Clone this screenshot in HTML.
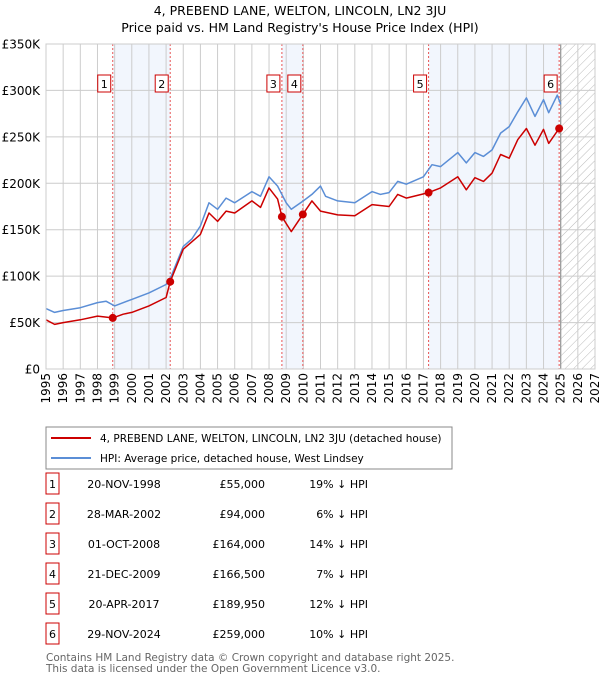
<!DOCTYPE html>
<html><head><meta charset="utf-8"><style>
body{margin:0;background:#fff;font-family:"Liberation Sans","DejaVu Sans",sans-serif;}
svg text{font-family:"DejaVu Sans","Liberation Sans",sans-serif;}
</style></head><body>
<svg id="c" width="600" height="680" xmlns="http://www.w3.org/2000/svg">
<defs><pattern id="hatch" width="6" height="6" patternUnits="userSpaceOnUse" patternTransform="rotate(45)"><line x1="0" y1="0" x2="0" y2="6" stroke="#bbb" stroke-width="1"/></pattern></defs>
<text x="300" y="15" text-anchor="middle" font-size="12.5">4, PREBEND LANE, WELTON, LINCOLN, LN2 3JU</text>
<text x="300" y="32" text-anchor="middle" font-size="12.5">Price paid vs. HM Land Registry's House Price Index (HPI)</text>
<g id="plot"></g>
<g>
<rect x="46" y="427" width="406" height="42" fill="#fff" stroke="#888"/>
<line x1="51" y1="438" x2="91" y2="438" stroke="#cc0000" stroke-width="2"/>
<text x="100" y="442" font-size="10.5">4, PREBEND LANE, WELTON, LINCOLN, LN2 3JU (detached house)</text>
<line x1="51" y1="458" x2="91" y2="458" stroke="#5b8ed6" stroke-width="2"/>
<text x="100" y="462" font-size="10.5">HPI: Average price, detached house, West Lindsey</text>
</g>
<g id="tbl"></g>
<text x="46" y="661" font-size="10.5" fill="#666">Contains HM Land Registry data © Crown copyright and database right 2025.</text>
<text x="46" y="672" font-size="10.5" fill="#666">This data is licensed under the Open Government Licence v3.0.</text>
</svg>
<script>
const hpiYears=[1995,1995.5,1996,1997,1998,1998.5,1999,2000,2001,2002,2002.3,2003,2003.5,2004,2004.5,2005,2005.5,2006,2007,2007.5,2008,2008.5,2009,2009.3,2010,2010.5,2011,2011.3,2012,2013,2014,2014.5,2015,2015.5,2016,2017,2017.5,2018,2019,2019.5,2020,2020.5,2021,2021.5,2022,2022.5,2023,2023.5,2024,2024.3,2024.8,2025];
const hpiValues=[65,61,63,66,71.5,73,68,75,82,91,100,132,140,154,179,172,184,179,191,186,207,197,179,172,181,188,197,186,181,179,191,188,190,202,199,207,220,218,233,222,233,229,236,254,261,277,292,272,290,276,295,285];
const propYears=[1995,1995.5,1996,1997,1998,1998.89,1999.5,2000,2001,2002,2002.24,2003,2004,2004.5,2005,2005.5,2006,2007,2007.5,2008,2008.5,2008.75,2009.3,2009.97,2010.5,2011,2012,2013,2014,2015,2015.5,2016,2017.3,2018,2019,2019.5,2020,2020.5,2021,2021.5,2022,2022.5,2023,2023.5,2024,2024.3,2024.91];
const propValues=[53,48,50,53,57,55,59,61,68,77,94,129,145,168,159,170,168,181,174,195,183,164,148,166.5,181,170,166,165,177,175,188,184,190,195,207,193,206,202,211,231,227,247,259,241,258,243,259];
const saleLabels=["1","2","3","4","5","6"];
const saleYears=[1998.89,2002.24,2008.75,2009.97,2017.30,2024.91];
const saleValues=[55,94,164,166.5,189.95,259];
const saleDates=["20-NOV-1998","28-MAR-2002","01-OCT-2008","21-DEC-2009","20-APR-2017","29-NOV-2024"];
const salePrices=["£55,000","£94,000","£164,000","£166,500","£189,950","£259,000"];
const saleDiffs=["19% ↓ HPI","6% ↓ HPI","14% ↓ HPI","7% ↓ HPI","12% ↓ HPI","10% ↓ HPI"];
const yTicks=[0,50,100,150,200,250,300,350];
const yTickLabels=["£0","£50K","£100K","£150K","£200K","£250K","£300K","£350K"];
const xTicks=[1995,1996,1997,1998,1999,2000,2001,2002,2003,2004,2005,2006,2007,2008,2009,2010,2011,2012,2013,2014,2015,2016,2017,2018,2019,2020,2021,2022,2023,2024,2025,2026,2027];

const L=46,R=595,T=44,B=369;
const X=y=>L+(y-1995)/(2027-1995)*(R-L);
const Y=v=>B-v/350*(B-T);
const NS="http://www.w3.org/2000/svg";
const plot=document.getElementById('plot');
function mk(tag,attrs,parent){const e=document.createElementNS(NS,tag);for(const k in attrs)e.setAttribute(k,attrs[k]);(parent||plot).appendChild(e);return e;}

for(let i=0;i<6;i+=2){
 const r=mk('rect',{x:X(saleYears[i]),y:T,width:X(saleYears[i+1])-X(saleYears[i]),height:B-T,fill:'#f2f6fd'});
 
 
}
const h=mk('rect',{x:X(2025),y:T,width:R-X(2025),height:B-T,fill:'url(#hatch)'});


xTicks.forEach(t=>{const g=mk('line',{x1:X(t),x2:X(t),y1:T,y2:B,stroke:'#ccc','stroke-width':1});
 
 
 const tx=mk('text',{x:0,y:0,'font-size':12,'text-anchor':'end',transform:`translate(${X(t)+4},${B+4}) rotate(-90)`});tx.textContent=t;
 
 
});
yTicks.forEach((t,i)=>{const g=mk('line',{x1:L,x2:R,y1:Y(t),y2:Y(t),stroke:'#ccc','stroke-width':1});
 
 
 const tx=mk('text',{x:40,y:Y(t)+4.5,'font-size':12,'text-anchor':'end'});tx.textContent=yTickLabels[i];
 
 
});
const nowl=mk('line',{x1:X(2025),x2:X(2025),y1:T,y2:B,stroke:'#999','stroke-width':1.2});


saleYears.forEach((s,i)=>{
 const l=mk('line',{x1:X(s),x2:X(s),y1:T,y2:B,stroke:'#e85555','stroke-width':1,'stroke-dasharray':'2,2'});
 
 
 const bx=mk('rect',{x:X(s)-15,y:75,width:13,height:17,fill:'#fff',stroke:'#cc0000'});
 
 
 const t=mk('text',{x:X(s)-8.5,y:88,'font-size':11,'text-anchor':'middle'});t.textContent=saleLabels[i];
 
 
});
function line(xs,vs,col,name){const p=mk('polyline',{points:xs.map((x,i)=>X(x).toFixed(1)+','+Y(vs[i]).toFixed(1)).join(' '),fill:'none',stroke:col,'stroke-width':1.5,'stroke-linejoin':'round'});
 
 }
line(hpiYears,hpiValues,'#5b8ed6','hpi-line');
line(propYears,propValues,'#cc0000','property-price-line');
saleYears.forEach((s,i)=>{const c=mk('circle',{cx:X(s),cy:Y(saleValues[i]),r:4,fill:'#cc0000'});
 
 });
mk('rect',{x:L,y:T,width:R-L,height:B-T,fill:'none',stroke:'#ccc'});

const tbl=document.getElementById('tbl');
saleLabels.forEach((lb,i)=>{
 const y=484+i*30;
 const b=mk('rect',{x:46,y:y-11,width:13,height:21,fill:'#fff',stroke:'#cc0000'},tbl);
 
 
 const cells=[[52.5,lb,'middle'],[124,saleDates[i],'middle'],[265,salePrices[i],'end'],[368,saleDiffs[i],'end']];
 cells.forEach((c,j)=>{const t=mk('text',{x:c[0],y:y+4,'font-size':11,'text-anchor':c[2]},tbl);t.textContent=c[1];
  
  });
});
</script>
</body></html>
